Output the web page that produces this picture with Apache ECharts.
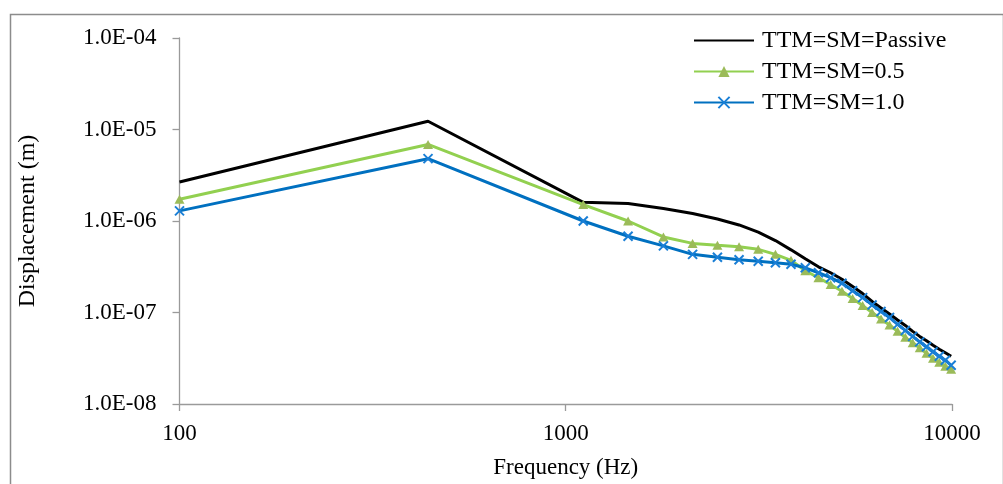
<!DOCTYPE html>
<html>
<head>
<meta charset="utf-8">
<script src="https://cdn.jsdelivr.net/npm/echarts@6/dist/echarts.min.js"></script>
<style>
html,body{margin:0;padding:0;background:#fff;}
#chart{width:1003px;height:484px;}
</style>
</head>
<body>
<div id="chart"></div>
<script>
var seriesNames = ['TTM=SM=Passive', 'TTM=SM=0.5', 'TTM=SM=1.0'];
var freq = [100, 440, 1110, 1450, 1790, 2130, 2470, 2810, 3150, 3490, 3830, 4170, 4510, 4850, 5190, 5530, 5870, 6210, 6550, 6890, 7230, 7570, 7910, 8250, 8590, 8930, 9270, 9610, 9950];
var passive = [2.67e-6, 1.23e-5, 1.60e-6, 1.55e-6, 1.37e-6, 1.21e-6, 1.05e-6, 9.05e-7, 7.54e-7, 6.11e-7, 4.84e-7, 3.86e-7, 3.16e-7, 2.72e-7, 2.31e-7, 1.92e-7, 1.61e-7, 1.32e-7, 1.12e-7, 9.63e-8, 8.29e-8, 7.22e-8, 6.22e-8, 5.48e-8, 4.90e-8, 4.38e-8, 3.96e-8, 3.63e-8, 3.32e-8];
var sm05 = [1.73e-6, 6.87e-6, 1.51e-6, 1.00e-6, 6.70e-7, 5.69e-7, 5.42e-7, 5.22e-7, 4.90e-7, 4.32e-7, 3.72e-7, 2.86e-7, 2.40e-7, 2.02e-7, 1.71e-7, 1.42e-7, 1.19e-7, 1.00e-7, 8.50e-8, 7.31e-8, 6.22e-8, 5.35e-8, 4.66e-8, 4.11e-8, 3.58e-8, 3.16e-8, 2.86e-8, 2.59e-8, 2.40e-8];
var sm10 = [1.29e-6, 4.80e-6, 1.00e-6, 6.82e-7, 5.35e-7, 4.32e-7, 4.01e-7, 3.77e-7, 3.63e-7, 3.50e-7, 3.37e-7, 3.08e-7, 2.72e-7, 2.40e-7, 2.09e-7, 1.73e-7, 1.455e-7, 1.21e-7, 1.025e-7, 8.83e-8, 7.41e-8, 6.37e-8, 5.48e-8, 4.78e-8, 4.22e-8, 3.72e-8, 3.32e-8, 3.01e-8, 2.65e-8];
var xTicks = [100, 1000, 10000];
var yTicks = [1e-8, 1e-7, 1e-6, 1e-5, 1e-4];
var xTitle = 'Frequency (Hz)';
var yTitle = 'Displacement (m)';

function pairs(vals) { return freq.map(function (f, i) { return [f, vals[i]]; }); }
function fmtE(v) {
  var e = Math.round(Math.log10(v));
  var m = v / Math.pow(10, e);
  return m.toFixed(1) + 'E' + (e < 0 ? '-' : '+') + String(Math.abs(e)).padStart(2, '0');
}
var FONT = '"Liberation Serif", "Times New Roman", serif';
var axisGray = '#9A9A9A';

var chart = echarts.init(document.getElementById('chart'));
chart.setOption({
  backgroundColor: '#fff',
  animation: false,
  textStyle: { fontFamily: FONT, color: '#000' },
  graphic: [{
    type: 'rect', left: 8, top: 12, silent: true,
    shape: { width: 993, height: 490 },
    style: { fill: 'none', stroke: '#8C8C8C', lineWidth: 1.5 }
  }],
  grid: { left: 179.5, right: 51, top: 38, bottom: 78, containLabel: false },
  legend: {
    orient: 'vertical', left: 693, top: 28, padding: 0,
    itemWidth: 60, itemHeight: 14, itemGap: 6,
    textStyle: { fontFamily: FONT, fontSize: 24, color: '#000', padding: [0, 0, 0, 3], lineHeight: 25 },
    data: [
      { name: seriesNames[0], itemStyle: { opacity: 0 } },
      { name: seriesNames[1] },
      { name: seriesNames[2] }
    ]
  },
  xAxis: {
    type: 'log', logBase: 10, min: xTicks[0], max: xTicks[xTicks.length - 1],
    name: xTitle, nameLocation: 'middle', nameGap: 52,
    nameTextStyle: { fontFamily: FONT, fontSize: 23, color: '#000' },
    axisLine: { show: true, lineStyle: { color: axisGray, width: 1.3 } },
    axisTick: { show: true, inside: false, length: 7, lineStyle: { color: axisGray, width: 1.3 } },
    minorTick: { show: false },
    splitLine: { show: false },
    axisLabel: { fontFamily: FONT, fontSize: 23, color: '#000', margin: 18,
      formatter: function (v) { return String(Math.round(v)); } }
  },
  yAxis: {
    type: 'log', logBase: 10, min: yTicks[0], max: yTicks[yTicks.length - 1],
    name: yTitle, nameLocation: 'middle', nameGap: 140, nameRotate: 90,
    nameTextStyle: { fontFamily: FONT, fontSize: 24, color: '#000' },
    axisLine: { show: true, lineStyle: { color: axisGray, width: 1.3 } },
    axisTick: { show: true, inside: false, length: 7, lineStyle: { color: axisGray, width: 1.3 } },
    minorTick: { show: false },
    splitLine: { show: false },
    axisLabel: { fontFamily: FONT, fontSize: 23, color: '#000', margin: 23, formatter: fmtE }
  },
  series: [
    {
      name: seriesNames[0], type: 'line', data: pairs(passive),
      symbol: 'none', smooth: false,
      lineStyle: { color: '#000000', width: 3 },
      itemStyle: { color: '#000000' }, z: 2
    },
    {
      name: seriesNames[1], type: 'line', data: pairs(sm05),
      symbol: 'triangle', symbolSize: [10, 9], showSymbol: true,
      lineStyle: { color: '#92D050', width: 3 },
      itemStyle: { color: '#9BBB59' }, z: 3
    },
    {
      name: seriesNames[2], type: 'line', data: pairs(sm10),
      symbol: 'path://M0,0L10,10M10,0L0,10', symbolSize: 9, showSymbol: true,
      lineStyle: { color: '#0070C0', width: 3 },
      itemStyle: { color: '#0070C0', borderColor: '#1A7FD6', borderWidth: 2 }, z: 4
    }
  ]
});
</script>
</body>
</html>
